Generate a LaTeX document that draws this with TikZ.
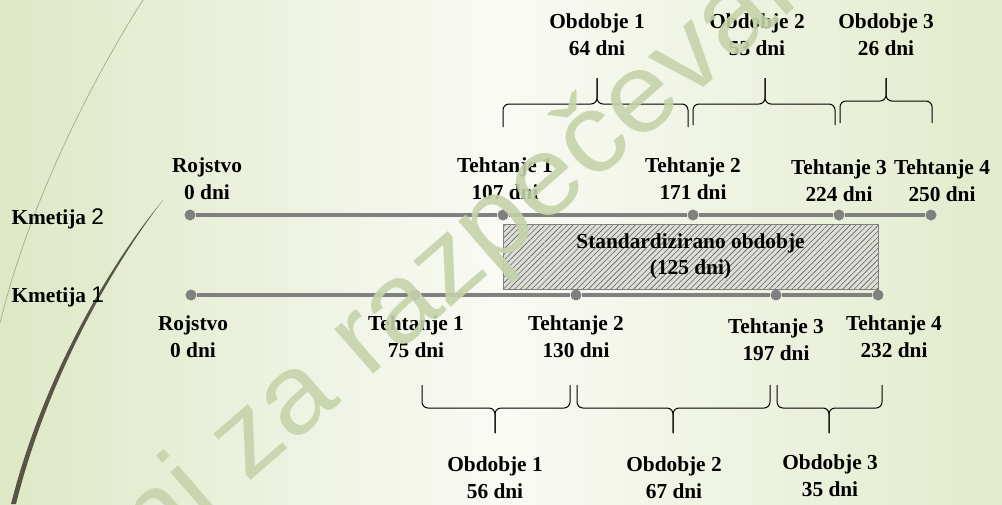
\documentclass[tikz,border=0pt]{standalone}
\usepackage{fontspec}
\setmainfont{Liberation Serif}
\setsansfont{Liberation Sans}
\newfontfamily\wmfont{Liberation Sans}[FakeStretch=1.06]
\usetikzlibrary{patterns.meta}

\definecolor{bgside}{RGB}{222,232,198}
\definecolor{bgmid}{RGB}{249,250,244}
\definecolor{bgright}{RGB}{226,235,204}
\definecolor{tlgray}{RGB}{128,128,128}
\definecolor{hatchbg}{RGB}{222,222,216}
\definecolor{hatchln}{RGB}{95,95,95}
\definecolor{arcgray}{RGB}{88,84,70}
\definecolor{arcfaint}{RGB}{168,178,145}
\definecolor{wmgreen}{RGB}{198,211,170}

\tikzset{every picture/.style={line width=0.75pt}}
\tikzset{
  lbl/.style={font=\fontsize{16}{20}\selectfont\bfseries, align=center, inner sep=0.75pt},
  tdot/.style={circle, fill=tlgray, inner sep=0pt, minimum size=8.25pt},
  tline/.style={draw=tlgray, line width=2.4pt},
  brc/.style={rounded corners=4.5pt},
  wmark/.style={font=\wmfont\fontsize{84}{90}\selectfont, text=wmgreen, text opacity=0.9, inner sep=0pt},
}

\begin{document}
\begin{tikzpicture}[x=0.75pt,y=0.75pt,yscale=-1,xscale=1]
\useasboundingbox (0,0) rectangle (1002,504);
\clip (0,0) rectangle (1002,504);

%Background
\shade [left color=bgside, right color=bgright, middle color=bgmid] (0,0) rectangle (1002,504);
%Curve Lines
\draw [arcfaint, line width=0.6pt] (143,0) .. controls (95,75) and (30,200) .. (0,323);
\fill [arcgray] (163,200) .. controls (115,258) and (45,370) .. (11,504) -- (16,504) .. controls (49,372) and (117,260) .. (163,200) -- cycle;

%Shape: Rectangle (hatched)
\node [draw=tlgray, line width=0.75pt, preaction={fill=hatchbg}, pattern={Lines[angle=45,distance=3pt,line width=0.45pt]}, pattern color=hatchln, minimum width=281.25pt, minimum height=48.75pt, lbl] (std) at (690.5,256.5) {Standardizirano obdobje\\(125 dni)};

%Dots, Kmetija 2
\node [tdot] (r2) at (190,215) {};
\node [tdot] (a21) at (503,215) {};
\node [tdot] (a22) at (693,215) {};
\node [tdot] (a23) at (839,215) {};
\node [tdot] (a24) at (931,215) {};
%Dots, Kmetija 1
\node [tdot] (r1) at (191,295) {};
\node [tdot] (a11) at (415,295) {};
\node [tdot] (a12) at (576,295) {};
\node [tdot] (a13) at (776,295) {};
\node [tdot] (a14) at (878,295) {};

%Straight Lines
\draw [tline] (r2) -- (a21) -- (a22) -- (a23) -- (a24);
\draw [tline] (r1) -- (a11) -- (a12) -- (a13) -- (a14);

%Shape: Brace (top)
\draw [brc] (503,127) |- (597,104) -- (597,78);
\draw [brc] (597,78) -- (597,104) -| (688,127);
%Shape: Brace
\draw [brc] (693,125) |- (765,104) -- (765,78);
\draw [brc] (765,78) -- (765,104) -| (835,125);
%Shape: Brace
\draw [brc] (840,123) |- (886,101) -- (886,78);
\draw [brc] (886,78) -- (886,101) -| (932,123);

%Shape: Brace (bottom)
\draw [brc] (422,385) |- (495,408) -- (495,433);
\draw [brc] (495,433) -- (495,408) -| (570,385);
%Shape: Brace
\draw [brc] (577,385) |- (673,408) -- (673,433);
\draw [brc] (673,433) -- (673,408) -| (770,385);
%Shape: Brace
\draw [brc] (777,385) |- (829,408) -- (829,433);
\draw [brc] (829,433) -- (829,408) -| (882,385);

% Text Node
\node [lbl, anchor=west] (k2) at (10,219) {Kmetija {\normalfont\sffamily\fontsize{17}{20}\selectfont 2}};
% Text Node
\node [lbl, anchor=west] (k1) at (10,297) {Kmetija {\normalfont\sffamily\fontsize{17}{20}\selectfont 1}};

% Text Node
\node [lbl] (lr2) at (207,179) {Rojstvo\\0 dni};
% Text Node
\node [lbl] (l21) at (505,179) {Tehtanje 1\\107 dni};
% Text Node
\node [lbl] (l22) at (693,179) {Tehtanje 2\\171 dni};
% Text Node
\node [lbl] (l23) at (839,181) {Tehtanje 3\\224 dni};
% Text Node
\node [lbl] (l24) at (942,181) {Tehtanje 4\\250 dni};

% Text Node
\node [lbl] (lr1) at (193,337) {Rojstvo\\0 dni};
% Text Node
\node [lbl] (l11) at (416,337) {Tehtanje 1\\75 dni};
% Text Node
\node [lbl] (l12) at (576,337) {Tehtanje 2\\130 dni};
% Text Node
\node [lbl] (l13) at (776,340) {Tehtanje 3\\197 dni};
% Text Node
\node [lbl] (l14) at (894,337) {Tehtanje 4\\232 dni};

% Text Node
\node [lbl] (o21) at (597,35) {Obdobje 1\\64 dni};
% Text Node
\node [lbl] (o22) at (757,35) {Obdobje 2\\53 dni};
% Text Node
\node [lbl] (o23) at (886,35) {Obdobje 3\\26 dni};

% Text Node
\node [lbl] (o11) at (495,478) {Obdobje 1\\56 dni};
% Text Node
\node [lbl] (o12) at (674,478) {Obdobje 2\\67 dni};
% Text Node
\node [lbl] (o13) at (830,476) {Obdobje 3\\35 dni};

% Watermark
\node [wmark, rotate=41, anchor=base west] (wm) at (153,566) {ni za razpečevanje};

\end{tikzpicture}
\end{document}
